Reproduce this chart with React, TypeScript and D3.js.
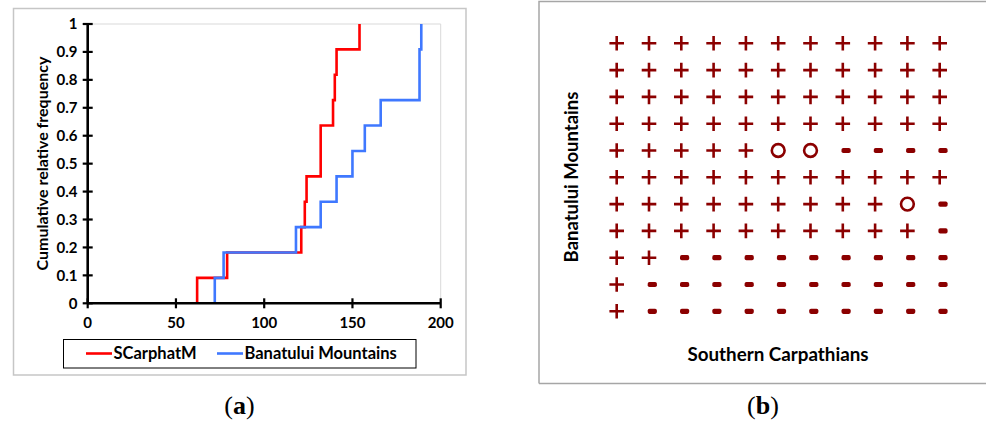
import React from "react";
import * as d3 from "d3";

const xTicks = [0, 50, 100, 150, 200];
const yTicks = [0, 0.1, 0.2, 0.3, 0.4, 0.5, 0.6, 0.7, 0.8, 0.9, 1];
const seriesNames = ["SCarphatM", "Banatului Mountains"];
const seriesColors = ["#ff0000", "#3f78ff"];
const southernValues = [62, 79, 121, 123, 124, 132, 132, 139, 140, 141, 154];
const banatValues = [72, 77, 118, 132, 141, 150, 157, 166, 188, 188, 189];
const gridRows = [
  "+++++++++++",
  "+++++++++++",
  "+++++++++++",
  "+++++++++++",
  "+++++oo----",
  "+++++++++++",
  "+++++++++o-",
  "++++++++++-",
  "++---------",
  "+----------",
  "+----------",
];
const xTitleA = "Cumulative relative frequency";
const xTitleB = "Southern Carpathians";
const yTitleB = "Banatului Mountains";

const FONT = "Lato, 'Open Sans', sans-serif";
const SERIF = "'Liberation Serif', 'DejaVu Serif', serif";
const DARK = "#8b0000";

function ecdfPoints(vals: number[]) {
  const s = [...vals].sort((a, b) => a - b);
  const n = s.length;
  const pts: [number, number][] = [[s[0], 0]];
  s.forEach((v, i) => pts.push([v, (i + 1) / n]));
  return pts;
}

export default function App() {
  const x = d3.scaleLinear().domain([0, 200]).range([87.7, 440.7]);
  const y = d3.scaleLinear().domain([0, 1]).range([303.3, 24]);
  const line = d3
    .line<[number, number]>()
    .x((d) => x(d[0]))
    .y((d) => y(d[1]))
    .curve(d3.curveStepAfter);
  const series = [southernValues, banatValues];

  const cols = d3.range(11);
  const gx = d3.scalePoint<number>().domain(cols).range([616.7, 939.7]);
  const gy = d3.scalePoint<number>().domain(cols).range([43.3, 311.3]);

  return (
    <svg
      width={986}
      height={421}
      style={{ position: "absolute", left: 0, top: 0, background: "#fff" }}
      fontFamily={FONT}
    >
      {/* Panel a frame */}
      <rect x={13.5} y={8.5} width={452.5} height={366.5} fill="none" stroke="#c6c6c6" strokeWidth={1.5} />
      {/* plot area border */}
      <path d={`M${x(0)},${y(1)}H${x(200)}V${y(0)}`} fill="none" stroke="#d9d9d9" strokeWidth={1} />
      {/* series */}
      {series.map((s, i) => (
        <path key={i} d={line(ecdfPoints(s)) || ""} fill="none" stroke={seriesColors[i]} strokeWidth={2.6} />
      ))}
      {/* axes */}
      <line x1={x(0)} x2={x(200)} y1={y(0)} y2={y(0)} stroke="#000" strokeWidth={2.6} />
      <line x1={x(0)} x2={x(0)} y1={y(0)} y2={y(1)} stroke="#000" strokeWidth={2.6} />
      {yTicks.map((t) => (
        <g key={t}>
          <line x1={x(0) - 5} x2={x(0) + 5} y1={y(t)} y2={y(t)} stroke="#000" strokeWidth={2.2} />
          <text x={77.5} y={y(t)} dy="0.36em" textAnchor="end" fontSize={15} fontWeight="bold">
            {String(t)}
          </text>
        </g>
      ))}
      {xTicks.map((t) => (
        <g key={t}>
          <line x1={x(t)} x2={x(t)} y1={y(0) - 5} y2={y(0) + 5} stroke="#000" strokeWidth={2.2} />
          <text x={x(t)} y={323} dy="0.36em" textAnchor="middle" fontSize={15} fontWeight="bold">
            {t}
          </text>
        </g>
      ))}
      <text
        transform={`translate(42,163.5) rotate(-90)`}
        textAnchor="middle"
        dy="0.36em"
        fontSize={16}
        fontWeight="bold"
      >
        {xTitleA}
      </text>
      {/* legend */}
      <rect x={63.5} y={339.5} width={352.5} height={28.5} fill="#fff" stroke="#000" strokeWidth={1} />
      {seriesNames.map((n, i) => {
        const lx = i === 0 ? 86 : 217;
        return (
          <g key={n}>
            <line x1={lx} x2={lx + 26} y1={353.5} y2={353.5} stroke={seriesColors[i]} strokeWidth={2.6} />
            <text x={lx + 27.5} y={353.5} dy="0.36em" fontSize={16.5} fontWeight="bold">
              {n}
            </text>
          </g>
        );
      })}
      <text x={239.5} y={405} dy="0.36em" textAnchor="middle" fontSize={26} fontFamily={SERIF}>
        (<tspan fontWeight="bold">a</tspan>)
      </text>

      {/* Panel b */}
      <path d="M539,383.5 V1.5 H986 M539,383.5 H986" fill="none" stroke="#a6a6a6" strokeWidth={1.5} />
      {gridRows.map((row, r) =>
        row.split("").map((c, ci) => {
          const cx = gx(ci)!;
          const cy = gy(r)!;
          if (c === "+")
            return (
              <path
                key={`${r}-${ci}`}
                d={`M${cx - 7.3},${cy}H${cx + 7.3}M${cx},${cy - 7.3}V${cy + 7.3}`}
                stroke={DARK}
                strokeWidth={2.6}
              />
            );
          if (c === "o")
            return <circle key={`${r}-${ci}`} cx={cx} cy={cy} r={6.4} fill="none" stroke={DARK} strokeWidth={2.6} />;
          return (
            <rect key={`${r}-${ci}`} x={cx + 3.3 - 4.6} y={cy - 2.6} width={9.2} height={5.2} rx={1.8} fill={DARK} />
          );
        })
      )}
      <text x={778} y={354} dy="0.36em" textAnchor="middle" fontSize={18.8} fontWeight="bold">
        {xTitleB}
      </text>
      <text transform={`translate(571,177) rotate(-90)`} dy="0.36em" textAnchor="middle" fontSize={18.5} fontWeight="bold">
        {yTitleB}
      </text>
      <text x={763} y={405} dy="0.36em" textAnchor="middle" fontSize={26} fontFamily={SERIF}>
        (<tspan fontWeight="bold">b</tspan>)
      </text>
    </svg>
  );
}
